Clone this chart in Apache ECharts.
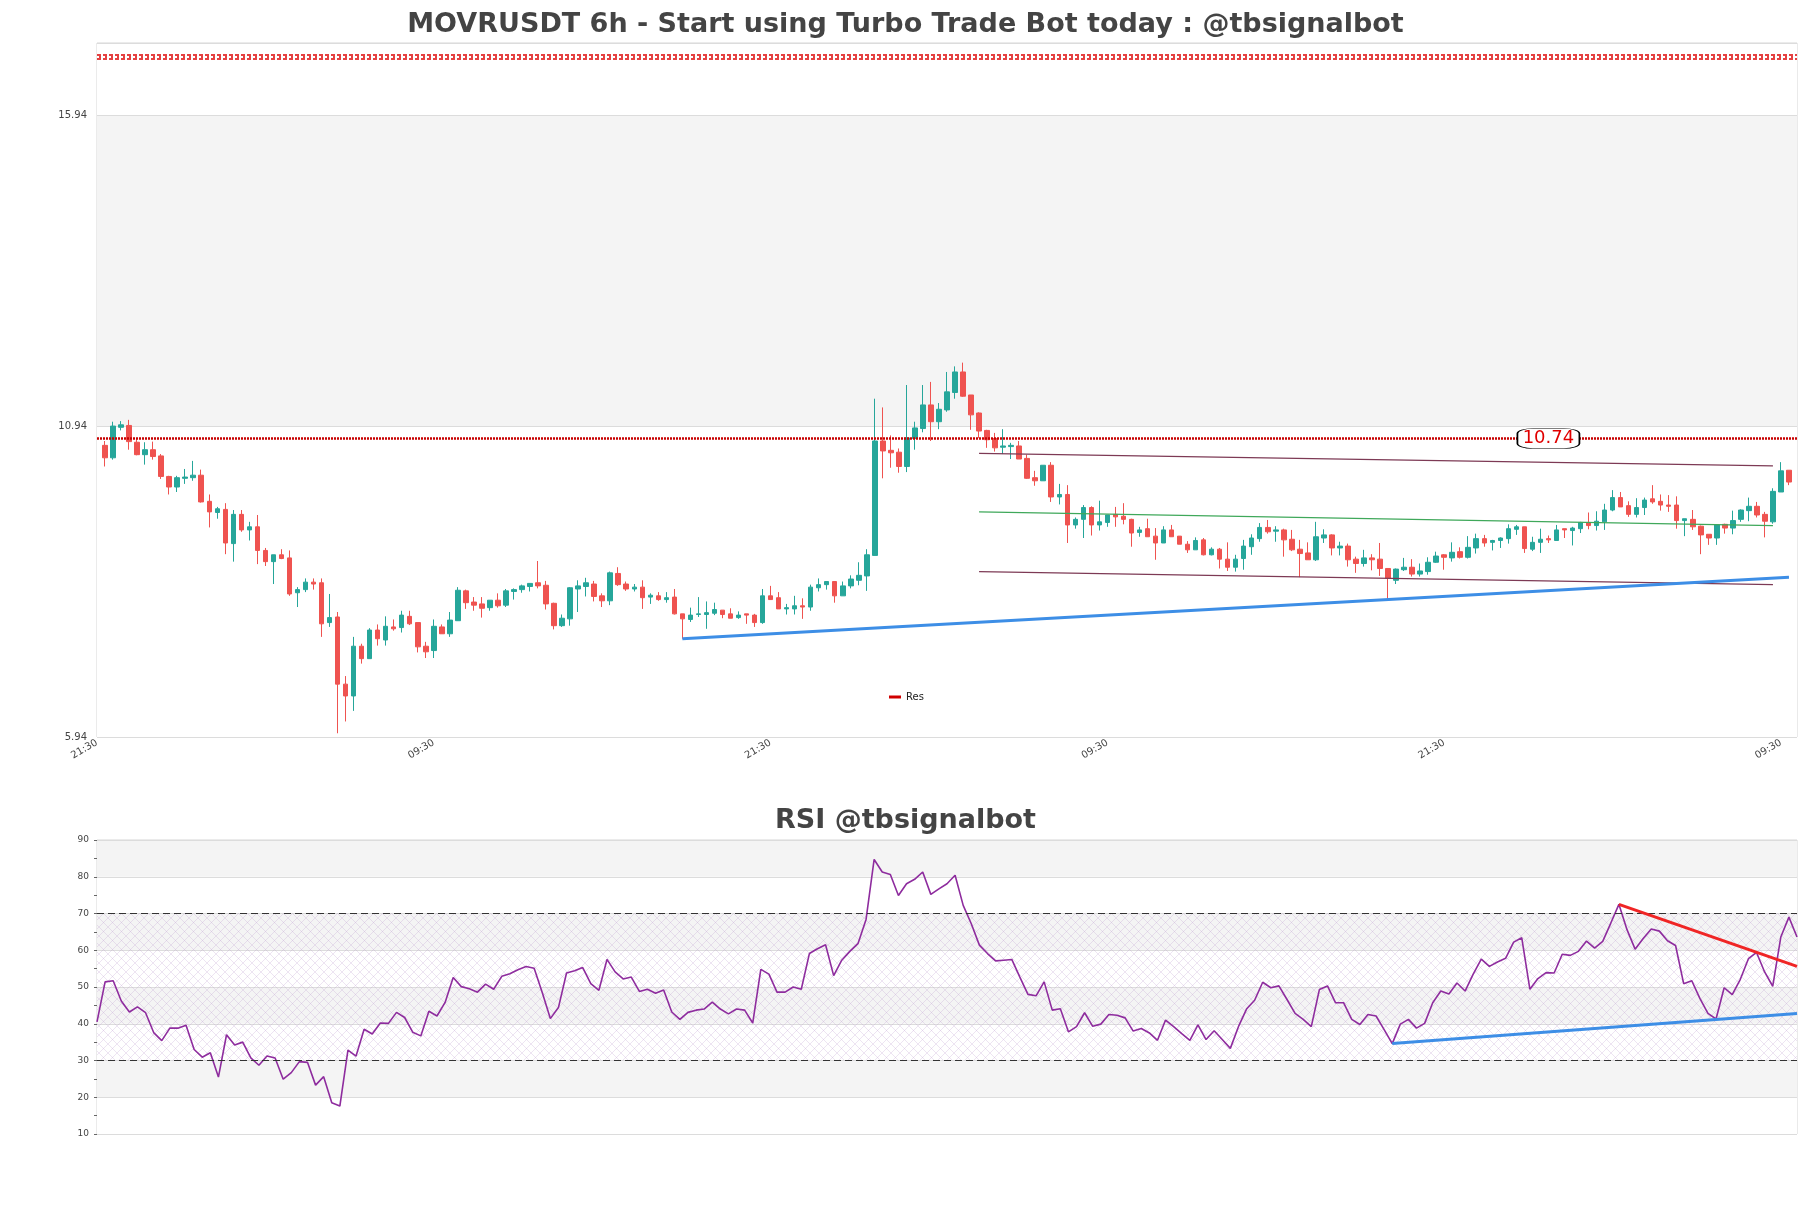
<!DOCTYPE html>
<html><head><meta charset="utf-8">
<script src="https://cdn.jsdelivr.net/npm/echarts@6/dist/echarts.min.js"></script>
<style>html,body{margin:0;padding:0;background:#fff}#c{width:1811px;height:1208px}</style>
</head><body><div id="c"></div>
<script>
const tickLabels = ['21:30','09:30','21:30','09:30','21:30','09:30'];
const opens = [10.63,10.43,10.92,10.95,10.68,10.48,10.56,10.46,10.13,9.96,
10.10,10.11,10.15,9.73,9.55,9.60,9.05,9.52,9.27,9.32,
8.94,8.76,8.87,8.82,8.26,8.31,8.43,8.42,7.78,7.87,
6.79,6.60,7.40,7.20,7.66,7.50,7.71,7.70,7.88,7.78,
7.40,7.33,7.71,7.60,7.81,8.29,8.11,8.08,8.02,8.14,
8.06,8.28,8.31,8.36,8.42,8.38,8.09,7.73,7.84,8.32,
8.36,8.40,8.21,8.13,8.57,8.40,8.32,8.35,8.19,8.21,
8.15,8.19,7.92,7.83,7.91,7.91,7.93,7.98,7.92,7.86,
7.92,7.90,7.78,8.21,8.18,8.00,8.00,8.05,8.03,8.34,
8.39,8.44,8.21,8.37,8.46,8.53,8.86,10.70,10.55,10.52,
10.29,10.74,10.90,11.28,11.01,11.20,11.48,11.81,11.44,11.15,
10.87,10.74,10.60,10.61,10.62,10.42,10.11,10.06,10.31,9.80,
9.84,9.35,9.44,9.63,9.35,9.39,9.52,9.49,9.44,9.23,
9.29,9.17,9.06,9.27,9.17,9.04,8.95,9.11,8.87,8.96,
8.80,8.67,8.81,9.00,9.13,9.31,9.25,9.27,9.12,8.96,
8.90,8.79,9.14,9.19,8.98,9.01,8.80,8.73,8.82,8.80,
8.65,8.46,8.63,8.67,8.56,8.60,8.75,8.87,8.82,8.92,
8.83,8.98,9.13,9.07,9.10,9.13,9.28,9.32,8.96,9.07,
9.13,9.10,9.29,9.26,9.29,9.39,9.34,9.40,9.59,9.79,
9.66,9.52,9.63,9.77,9.73,9.67,9.67,9.42,9.44,9.33,
9.20,9.14,9.36,9.30,9.44,9.58,9.65,9.52,9.40,9.88,
10.23];
const closes = [10.43,10.94,10.96,10.69,10.48,10.56,10.45,10.13,9.96,10.11,
10.12,10.15,9.72,9.56,9.61,9.06,9.52,9.27,9.32,8.94,
8.76,8.87,8.81,8.24,8.31,8.43,8.40,7.76,7.86,6.79,
6.60,7.40,7.20,7.66,7.52,7.72,7.68,7.90,7.76,7.39,
7.31,7.72,7.60,7.82,8.30,8.10,8.06,8.01,8.14,8.05,
8.29,8.31,8.37,8.41,8.37,8.08,7.73,7.85,8.34,8.37,
8.42,8.20,8.13,8.58,8.39,8.32,8.35,8.18,8.22,8.15,
8.18,7.92,7.84,7.90,7.92,7.94,7.99,7.91,7.85,7.90,
7.90,7.78,8.21,8.15,8.00,8.02,8.05,8.03,8.35,8.39,
8.44,8.21,8.37,8.48,8.54,8.87,10.70,10.54,10.51,10.29,
10.75,10.91,11.28,11.01,11.21,11.49,11.81,11.42,11.12,10.86,
10.72,10.59,10.62,10.63,10.41,10.10,10.06,10.31,9.80,9.84,
9.35,9.44,9.63,9.35,9.40,9.51,9.48,9.44,9.22,9.27,
9.16,9.06,9.27,9.16,9.04,8.95,9.10,8.87,8.96,8.80,
8.67,8.80,9.01,9.14,9.31,9.24,9.27,9.11,8.95,8.89,
8.79,9.16,9.19,8.98,9.01,8.79,8.73,8.82,8.79,8.65,
8.49,8.64,8.67,8.56,8.61,8.75,8.85,8.83,8.91,8.83,
8.99,9.13,9.06,9.10,9.14,9.29,9.32,8.97,9.07,9.12,
9.11,9.27,9.27,9.30,9.39,9.34,9.41,9.59,9.79,9.64,
9.52,9.63,9.75,9.72,9.67,9.65,9.42,9.45,9.32,9.19,
9.14,9.35,9.30,9.42,9.59,9.65,9.51,9.41,9.89,10.22,
10.04];
const lows = [10.29,10.40,10.87,10.56,10.47,10.32,10.40,10.09,9.84,9.88,
10.01,10.06,9.71,9.31,9.45,8.88,8.76,9.24,9.10,8.72,
8.69,8.40,8.80,8.21,8.03,8.27,8.31,7.55,7.71,6.00,
6.19,6.36,7.12,7.20,7.41,7.41,7.65,7.62,7.74,7.30,
7.21,7.21,7.60,7.55,7.81,8.00,7.97,7.86,7.97,8.02,
8.03,8.15,8.26,8.28,8.33,7.99,7.67,7.71,7.73,7.95,
8.20,8.12,8.03,8.06,8.37,8.29,8.28,8.00,8.08,8.13,
8.10,7.91,7.52,7.79,7.87,7.68,7.90,7.85,7.85,7.84,
7.76,7.71,7.76,8.15,8.00,7.91,7.91,7.84,7.97,8.28,
8.31,8.10,8.21,8.33,8.38,8.29,8.86,10.10,10.27,10.19,
10.20,10.56,10.84,10.70,10.89,11.17,11.38,11.41,10.88,10.75,
10.59,10.53,10.49,10.41,10.41,10.09,9.98,10.06,9.72,9.68,
9.06,9.29,9.14,9.18,9.26,9.32,9.32,9.36,9.00,9.16,
9.16,8.79,9.06,9.16,9.04,8.90,8.95,8.86,8.86,8.65,
8.61,8.60,8.63,8.87,9.08,9.21,9.08,8.84,8.93,8.51,
8.79,8.77,9.06,8.86,8.86,8.68,8.58,8.68,8.62,8.53,
8.14,8.40,8.61,8.52,8.52,8.55,8.74,8.63,8.76,8.81,
8.81,8.89,9.00,8.94,8.98,9.05,9.19,8.90,8.93,8.90,
9.06,9.10,9.14,9.02,9.22,9.28,9.26,9.27,9.57,9.64,
9.48,9.47,9.51,9.69,9.58,9.56,9.29,9.17,9.27,8.88,
9.03,9.03,9.21,9.20,9.40,9.41,9.47,9.15,9.37,9.88,
9.99];
const highs = [10.70,11.01,11.02,11.04,10.73,10.68,10.69,10.49,10.14,10.14,
10.25,10.38,10.24,9.84,9.64,9.70,9.59,9.59,9.40,9.51,
8.98,8.87,8.96,8.94,8.35,8.49,8.49,8.49,8.24,7.95,
6.92,7.55,7.44,7.69,7.75,7.88,7.83,7.97,7.97,7.78,
7.47,7.83,7.75,7.95,8.35,8.31,8.19,8.19,8.14,8.25,
8.32,8.33,8.39,8.41,8.77,8.45,8.10,7.91,8.35,8.46,
8.50,8.45,8.25,8.60,8.67,8.44,8.40,8.46,8.25,8.27,
8.27,8.32,7.92,8.02,8.19,8.12,8.10,7.98,8.01,7.96,
7.92,7.92,8.32,8.37,8.27,8.08,8.21,8.17,8.39,8.49,
8.44,8.44,8.44,8.54,8.75,8.96,11.38,11.24,10.79,10.58,
11.60,11.01,11.60,11.65,11.31,11.81,11.90,11.96,11.44,11.16,
10.88,10.83,10.89,10.67,10.70,10.48,10.22,10.31,10.36,10.01,
9.99,9.47,9.67,9.65,9.74,9.51,9.64,9.70,9.45,9.32,
9.45,9.30,9.33,9.35,9.17,9.09,9.15,9.14,8.99,8.98,
9.07,8.87,9.11,9.20,9.38,9.43,9.33,9.29,9.27,9.11,
9.07,9.40,9.28,9.20,9.08,9.05,8.84,8.95,8.88,9.06,
8.65,8.65,8.82,8.80,8.73,8.83,8.92,8.88,9.07,8.99,
9.17,9.21,9.19,9.11,9.15,9.36,9.35,9.32,9.16,9.29,
9.18,9.35,9.29,9.32,9.40,9.55,9.57,9.69,9.91,9.88,
9.73,9.78,9.79,9.99,9.84,9.83,9.81,9.45,9.59,9.34,
9.20,9.35,9.37,9.58,9.60,9.79,9.72,9.56,9.94,10.36,
10.23];
const rsi = [40.5,51.4,51.7,46.2,43.2,44.6,43.0,37.6,35.4,38.8,
38.8,39.6,33.0,30.9,32.1,25.5,37.0,34.2,35.0,30.7,
28.7,31.2,30.7,24.9,26.7,29.7,29.5,23.3,25.6,18.5,
17.6,32.8,31.2,38.5,37.2,40.2,40.1,43.1,41.7,37.7,
36.7,43.4,42.1,45.8,52.6,50.1,49.5,48.6,50.8,49.4,
52.9,53.6,54.7,55.6,55.1,48.5,41.4,44.4,53.8,54.4,
55.3,50.9,49.1,57.5,54.1,52.2,52.7,48.8,49.4,48.3,
49.2,43.2,41.2,43.1,43.7,44.0,45.9,44.0,42.7,44.0,
43.7,40.2,54.8,53.5,48.6,48.6,50.0,49.4,59.1,60.4,
61.5,53.1,57.3,59.7,61.8,68.4,84.7,81.3,80.6,74.9,
78.1,79.3,81.3,75.2,76.7,78.1,80.4,72.2,67.2,61.4,
59.1,57.1,57.3,57.5,52.7,48.0,47.6,51.4,43.7,44.1,
37.8,39.2,43.0,39.3,39.9,42.5,42.3,41.6,38.0,38.7,
37.5,35.5,41.0,39.2,37.3,35.5,39.7,35.7,38.1,35.7,
33.3,39.2,44.0,46.4,51.3,49.8,50.3,46.6,42.8,41.2,
39.2,49.3,50.3,45.7,45.7,41.2,39.8,42.5,42.1,38.4,
34.6,39.9,41.2,38.8,40.1,45.7,48.9,48.1,51.1,48.9,
53.5,57.6,55.6,56.8,57.8,62.2,63.4,49.4,52.3,53.9,
53.8,58.9,58.6,59.7,62.5,60.6,62.4,67.4,72.5,65.6,
60.3,63.2,65.8,65.2,62.6,61.3,50.9,51.7,46.9,42.8,
41.3,49.8,47.9,52.1,57.7,59.4,54.1,50.2,63.6,69.0,
63.6];
// trend / channel lines: [candleIndex, price]
const priceSupport = [[72, 7.52], [210, 8.51]];
const chanUpper = [[109, 10.50], [208, 10.30]];
const chanMid = [[109, 9.56], [208, 9.34]];
const chanLower = [[109, 8.60], [208, 8.39]];
const resLevel = 10.74;
const topLevel = 16.88;
const rsiSupport = [[160, 34.6], [210, 42.8]];
const rsiResist = [[188, 72.5], [210, 55.6]];
const rsiBands = [30, 70];

const N = opens.length;
const cats = []; for (let k = 0; k < N + 2; k++) cats.push(String(k));
const rsiCats = rsi.map((_, k) => String(k));
const candles = opens.map((o, i) => [i + 1, o, closes[i], lows[i], highs[i]]);
const shift = pts => pts.map(p => [p[0] + 1, p[1]]);

function hatch() {
  const c = document.createElement('canvas'); c.width = 9; c.height = 9;
  const g = c.getContext('2d');
  g.strokeStyle = 'rgba(185,150,205,0.33)'; g.lineWidth = 0.8;
  g.beginPath(); g.moveTo(0, 0); g.lineTo(9, 9); g.moveTo(9, 0); g.lineTo(0, 9); g.stroke();
  return c;
}
const FONT = 'DejaVu Sans';
const chart = echarts.init(document.getElementById('c'), null, {renderer: 'canvas'});
const lineS = (name, data, color, width, xi) => ({
  type: 'line', name, data, xAxisIndex: xi, yAxisIndex: xi, symbol: 'none', showSymbol: false,
  lineStyle: {color, width}, itemStyle: {color}, silent: true, z: 5
});
chart.setOption({
  animation: false,
  textStyle: {fontFamily: FONT},
  title: [
    {text: 'MOVRUSDT 6h - Start using Turbo Trade Bot today : @tbsignalbot', left: 'center', top: 6,
     textStyle: {fontFamily: FONT, fontWeight: 'bold', fontSize: 27, color: '#444'}},
    {text: 'RSI @tbsignalbot', left: 'center', top: 802,
     textStyle: {fontFamily: FONT, fontWeight: 'bold', fontSize: 27, color: '#444'}}
  ],
  legend: {data: ['Res'], left: 884, top: 687, icon: 'rect', itemWidth: 12, itemHeight: 3, itemGap: 5,
    textStyle: {fontFamily: FONT, fontSize: 10, color: '#222'}},
  grid: [
    {left: 97, top: 43, width: 1700, height: 694, show: true, borderColor: '#d6d6d6', borderWidth: 1, backgroundColor: 'transparent'},
    {left: 97, top: 840, width: 1700, height: 294, show: true, borderColor: '#d6d6d6', borderWidth: 1, backgroundColor: 'transparent'}
  ],
  xAxis: [
    {type: 'category', gridIndex: 0, data: cats, boundaryGap: false,
     axisLine: {show: false}, axisTick: {show: false}, splitLine: {show: false},
     axisLabel: {interval: 41, rotate: 30, fontSize: 10, color: '#444', margin: 5, fontFamily: FONT,
       formatter: (v, idx) => tickLabels[Math.round(idx / 42)] || ''}},
    {type: 'category', gridIndex: 1, data: rsiCats, boundaryGap: false,
     axisLine: {show: false}, axisTick: {show: false}, axisLabel: {show: false}, splitLine: {show: false}}
  ],
  yAxis: [
    {type: 'value', gridIndex: 0, min: 5.94, max: 17.1, interval: 5,
     axisLine: {show: false}, axisTick: {show: false},
     axisLabel: {fontSize: 10, color: '#444', margin: 10, showMaxLabel: false, fontFamily: FONT,
       formatter: v => v.toFixed(2)},
     splitLine: {show: true, lineStyle: {color: '#dcdcdc', width: 1}},
     splitArea: {show: true, areaStyle: {color: ['#ffffff', '#f4f4f4']}}},
    {type: 'value', gridIndex: 1, min: 10, max: 90, interval: 10,
     axisLine: {show: false},
     axisTick: {show: true, length: 3, lineStyle: {color: '#666'}},
     minorTick: {show: true, splitNumber: 2, length: 3, lineStyle: {color: '#666'}},
     axisLabel: {fontSize: 9, color: '#444', margin: 8, fontFamily: FONT},
     splitLine: {show: true, lineStyle: {color: '#dcdcdc', width: 1}},
     splitArea: {show: true, areaStyle: {color: ['#ffffff', '#f4f4f4']}}}
  ],
  series: [
    {type: 'candlestick', name: 'price', xAxisIndex: 0, yAxisIndex: 0, data: candles,
     dimensions: ['idx', 'open', 'close', 'lowest', 'highest'],
     encode: {x: 'idx', y: ['open', 'close', 'lowest', 'highest']},
     barWidth: 5, z: 3,
     itemStyle: {color: '#26a69a', color0: '#ef5350', borderColor: '#26a69a', borderColor0: '#ef5350', borderWidth: 1},
     markLine: {silent: true, symbol: 'none', animation: false, label: {show: false},
       data: [
         {yAxis: topLevel, lineStyle: {color: '#e02020', width: 6, type: [4, 2], opacity: 0.85}},
         {yAxis: topLevel, lineStyle: {color: '#ffffff', width: 2, type: [2, 4]}},
         {yAxis: resLevel, lineStyle: {color: '#c80000', width: 2.5, type: [2, 1]}}
       ]},
     markPoint: {silent: true, animation: false,
       data: [{coord: [181, resLevel], symbol: 'roundRect', symbolSize: [62, 20],
         itemStyle: {color: '#ffffff', borderColor: '#000', borderWidth: 1},
         label: {show: true, position: 'inside', formatter: String(resLevel), color: '#e00000', fontSize: 18, fontFamily: FONT}}]}
    },
    {type: 'line', name: 'Res', xAxisIndex: 0, yAxisIndex: 0, data: [], itemStyle: {color: '#d00000'}, lineStyle: {color: '#d00000', width: 3}},
    lineS('upper', shift(chanUpper), '#7d3a55', 1.2, 0),
    lineS('mid', shift(chanMid), '#3fa85a', 1.2, 0),
    lineS('lower', shift(chanLower), '#7d3a55', 1.2, 0),
    lineS('support', shift(priceSupport), '#3d8ee6', 3, 0),
    {type: 'line', name: 'RSI', xAxisIndex: 1, yAxisIndex: 1, data: rsi, symbol: 'none', showSymbol: false,
     lineStyle: {color: '#8e2c9e', width: 1.6}, itemStyle: {color: '#8e2c9e'}, z: 4, silent: true,
     markArea: {silent: true, data: [[{yAxis: rsiBands[0]}, {yAxis: rsiBands[1]}]],
       itemStyle: {color: {image: hatch(), repeat: 'repeat'}}},
     markLine: {silent: true, symbol: 'none', label: {show: false},
       lineStyle: {color: '#333', width: 1.2, type: [7, 4]},
       data: [{yAxis: rsiBands[1]}, {yAxis: rsiBands[0]}]}},
    lineS('rsiSup', rsiSupport, '#3d8ee6', 3, 1),
    lineS('rsiRes', rsiResist, '#f02525', 3, 1)
  ]
});
</script></body></html>
